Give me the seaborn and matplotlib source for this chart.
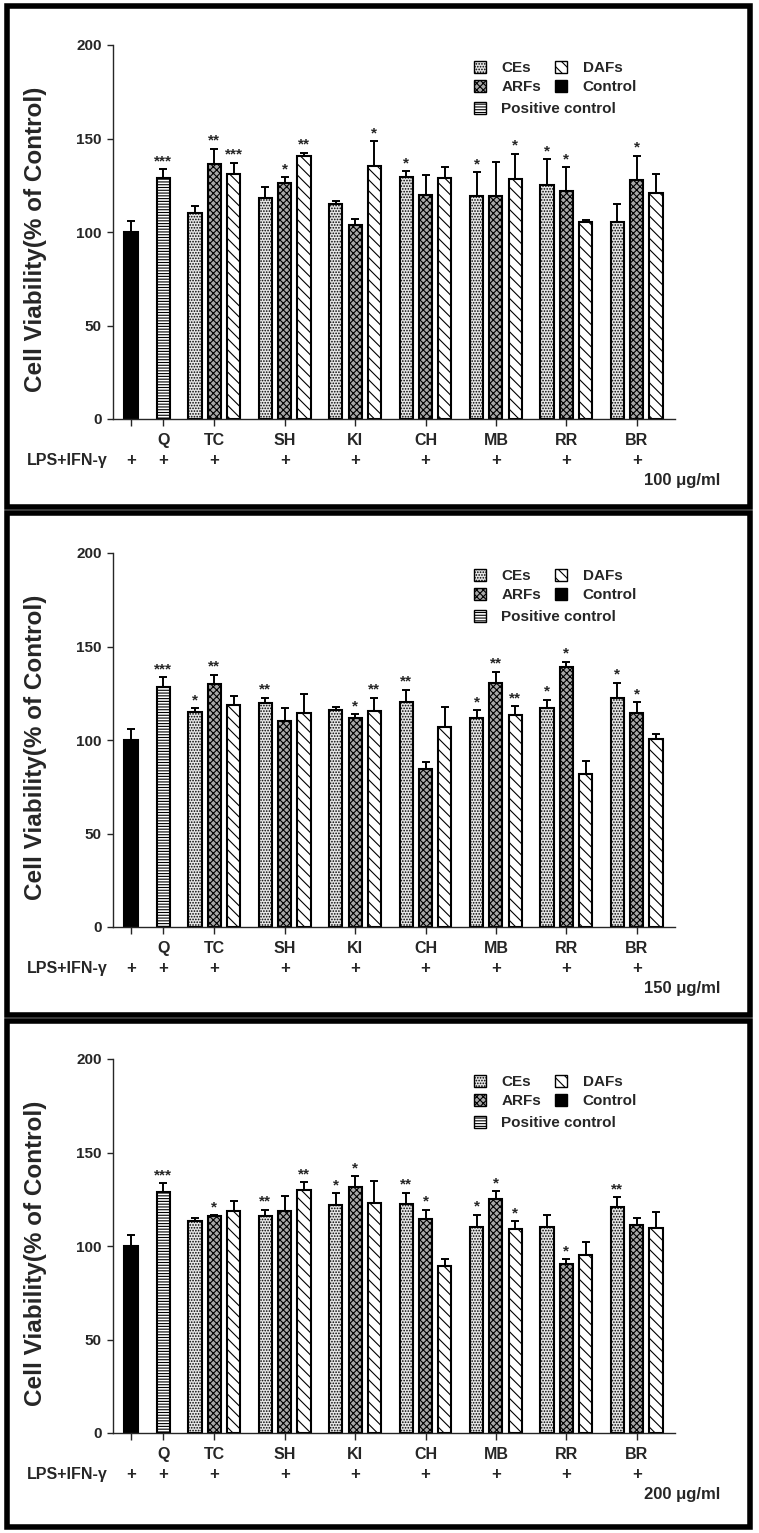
import matplotlib.pyplot as plt
import matplotlib.patches as mpatches
import numpy as np
import pandas as pd
import seaborn as sns

# Data (cell viability, % of control)
groups = ["TC", "SH", "KI", "CH", "MB", "RR", "BR"]
doses = ["100 \u03bcg/ml", "150 \u03bcg/ml", "200 \u03bcg/ml"]

ctrl_val = [100, 100, 100]
ctrl_err = [6, 6, 6]
q_val = [128.7, 128.4, 128.7]
q_err = [5, 5.2, 5]
q_sig = ["***", "***", "***"]

ces_100 = [110, 118, 115, 129.5, 119.5, 125, 105.5]
ces_err_100 = [4, 6, 1.5, 3, 12.5, 13.8, 9.6]
ces_sig_100 = ["", "", "", "*", "*", "*", ""]
arfs_100 = [136.5, 126, 104, 120, 119, 122, 128]
arfs_err_100 = [8, 3.4, 3, 10.3, 18.6, 12.8, 12.9]
arfs_sig_100 = ["**", "*", "", "", "", "*", "*"]
dafs_100 = [131, 140.5, 135.5, 129, 128.5, 105.5, 121]
dafs_err_100 = [6, 2, 13, 6, 13.3, 0.7, 9.8]
dafs_sig_100 = ["***", "**", "*", "", "*", "", ""]

ces_150 = [115, 119.7, 116, 120.4, 111.8, 117, 122.7]
ces_err_150 = [2, 3, 1.8, 6.4, 4, 4.5, 7.9]
ces_sig_150 = ["*", "**", "", "**", "*", "*", "*"]
arfs_150 = [130, 110, 111.5, 84.7, 130.4, 138.8, 114.6]
arfs_err_150 = [5, 7, 2.3, 3.7, 6.2, 3, 5.5]
arfs_sig_150 = ["**", "", "*", "", "**", "*", "*"]
dafs_150 = [118.8, 114.5, 115.6, 107, 113.6, 81.9, 100.4]
dafs_err_150 = [4.5, 10, 7, 10.4, 4.6, 6.8, 3]
dafs_sig_150 = ["", "", "**", "", "**", "", ""]

ces_200 = [113.2, 116.1, 122.1, 122.6, 110, 110.4, 121]
ces_err_200 = [1.8, 3.4, 6.2, 5.9, 6.8, 6.2, 5.2]
ces_sig_200 = ["", "**", "*", "**", "*", "", "**"]
arfs_200 = [115.9, 118.5, 131.3, 114.6, 124.9, 90.6, 111.4]
arfs_err_200 = [0.6, 8, 5.9, 4.8, 4.3, 2.2, 3.8]
arfs_sig_200 = ["*", "", "*", "*", "*", "*", ""]
dafs_200 = [118.7, 130.2, 123.2, 89.4, 109.3, 95.3, 109.5]
dafs_err_200 = [5.3, 4, 11.5, 3.6, 3.9, 6.6, 8.9]
dafs_sig_200 = ["", "**", "", "", "*", "", ""]

panels = [
    (ces_100, ces_err_100, ces_sig_100, arfs_100, arfs_err_100, arfs_sig_100,
     dafs_100, dafs_err_100, dafs_sig_100),
    (ces_150, ces_err_150, ces_sig_150, arfs_150, arfs_err_150, arfs_sig_150,
     dafs_150, dafs_err_150, dafs_sig_150),
    (ces_200, ces_err_200, ces_sig_200, arfs_200, arfs_err_200, arfs_sig_200,
     dafs_200, dafs_err_200, dafs_sig_200),
]

# Styles
series = ["CEs", "ARFs", "DAFs", "Positive control", "Control"]
faces = {"CEs": "#e6e6e6", "ARFs": "#a8a8a8", "DAFs": "white",
         "Positive control": "white", "Control": "black"}
hatches = {"CEs": "......", "ARFs": "xxxxx", "DAFs": "\\\\\\",
           "Positive control": "------", "Control": ""}

W, H = 759, 1533
sns.set_style("ticks")
plt.rcParams["font.family"] = ["Liberation Sans", "DejaVu Sans"]
plt.rcParams["font.weight"] = "bold"
plt.rcParams["hatch.linewidth"] = 0.8

# Layout (x in "group" units, TC at 2)
group_x = np.arange(len(groups)) + 2
q_x = 2 - 51 / 70.4
ctrl_x = 2 - 83.3 / 70.4
step = 0.274
bar_w = 0.185
ax_left, ax_right = 113, 675
panel_off = [0, 508, 1014]
boxes = [(6, 507), (513, 1015), (1021, 1527)]

fig = plt.figure(figsize=(W / 100, H / 100), dpi=100)

for k, off in enumerate(panel_off):
    (ces, ces_e, ces_s, arfs, arfs_e, arfs_s, dafs, dafs_e, dafs_s) = panels[k]

    rows = []
    for i in range(len(groups)):
        rows.append((group_x[i] - step, ces[i], ces_e[i], ces_s[i], "CEs"))
        rows.append((group_x[i], arfs[i], arfs_e[i], arfs_s[i], "ARFs"))
        rows.append((group_x[i] + step, dafs[i], dafs_e[i], dafs_s[i], "DAFs"))
    rows.append((q_x, q_val[k], q_err[k], q_sig[k], "Positive control"))
    rows.append((ctrl_x, ctrl_val[k], ctrl_err[k], "", "Control"))
    df = pd.DataFrame(rows, columns=["pos", "val", "err", "sig", "series"])

    ax = fig.add_axes([ax_left / W, 1 - (419 + off) / H,
                       (ax_right - ax_left) / W, 374 / H])
    sns.barplot(data=df, x="pos", y="val", hue="series", hue_order=series,
                palette=faces, native_scale=True, dodge=False,
                width=bar_w / step, errorbar=None, edgecolor="black",
                linewidth=1.5, legend=False, ax=ax)

    # hatches per bar
    for p in ax.patches:
        cx = p.get_x() + p.get_width() / 2
        idx = int(np.argmin(np.abs(df["pos"].values - cx)))
        p.set_hatch(hatches[df["series"].iloc[idx]])
        p.set_edgecolor("black")

    # one-sided error bars
    ax.errorbar(df["pos"], df["val"], yerr=[np.zeros(len(df)), df["err"]],
                fmt="none", ecolor="black", elinewidth=1.4, capsize=3,
                capthick=1.4, zorder=5)
    for _, r in df.iterrows():
        if r["sig"]:
            ax.text(r["pos"], r["val"] + r["err"] + 0.5, r["sig"], ha="center",
                    va="bottom", fontsize=11, fontweight="bold")

    # axes
    x0 = 2 - (214.3 - ax_left) / 70.4
    ax.set_xlim(x0, x0 + (ax_right - ax_left) / 70.4)
    ax.set_ylim(0, 200)
    ax.set_yticks([0, 50, 100, 150, 200])
    ax.set_yticklabels(["0", "50", "100", "150", "200"], fontsize=11,
                       fontweight="bold")
    ax.set_xticks([ctrl_x, q_x] + list(group_x))
    ax.set_xticklabels([""] + ["Q"] + groups, fontsize=11.5, fontweight="bold")
    ax.tick_params(axis="x", length=5, width=1, pad=5)
    ax.tick_params(axis="y", length=4, width=1, pad=4)
    ax.set_xlabel("")
    sns.despine(ax=ax)
    for s in ["left", "bottom"]:
        ax.spines[s].set_linewidth(1)
    ax.set_ylabel("Cell Viability(% of Control)", fontsize=17.5,
                  fontweight="bold")
    ax.yaxis.set_label_coords((47 - ax_left) / (ax_right - ax_left), 0.48)

    # treatment row
    trans = ax.get_xaxis_transform()
    plus_y = -(460 - 419) / 374
    for xp in [ctrl_x, q_x] + list(group_x):
        ax.text(xp, plus_y, "+", transform=trans, ha="center", va="center",
                fontsize=12, fontweight="bold", clip_on=False)
    fig.text(27 / W, 1 - (460 + off) / H, "LPS+IFN-\u03b3", ha="left",
             va="center", fontsize=11.5, fontweight="bold")
    fig.text(720 / W, 1 - (481 + off) / H, doses[k], ha="right",
             va="center", fontsize=12, fontweight="bold")

    # legend
    h = {s: mpatches.Patch(facecolor=faces[s], edgecolor="black",
                           hatch=hatches[s], label=s) for s in series}
    leg_kw = dict(frameon=False, borderpad=0, borderaxespad=0,
                  handlelength=0.8, handleheight=0.8, handletextpad=1.0,
                  labelspacing=0.32, prop=dict(weight="bold", size=11),
                  bbox_transform=fig.transFigure, loc="upper left")
    leg1 = ax.legend(handles=[h["CEs"], h["ARFs"], h["DAFs"], h["Control"]],
                     ncol=2, columnspacing=0.9,
                     bbox_to_anchor=(474 / W, 1 - (61 + off) / H), **leg_kw)
    ax.add_artist(leg1)
    ax.legend(handles=[h["Positive control"]],
              bbox_to_anchor=(474 / W, 1 - (102 + off) / H), **leg_kw)

    # panel frame
    top, bot = boxes[k]
    fig.add_artist(mpatches.Rectangle((7 / W, 1 - bot / H), (750 - 7) / W,
                                      (bot - top) / H, transform=fig.transFigure,
                                      fill=False, edgecolor="black", lw=4))

fig.savefig("out.png", dpi=100)
